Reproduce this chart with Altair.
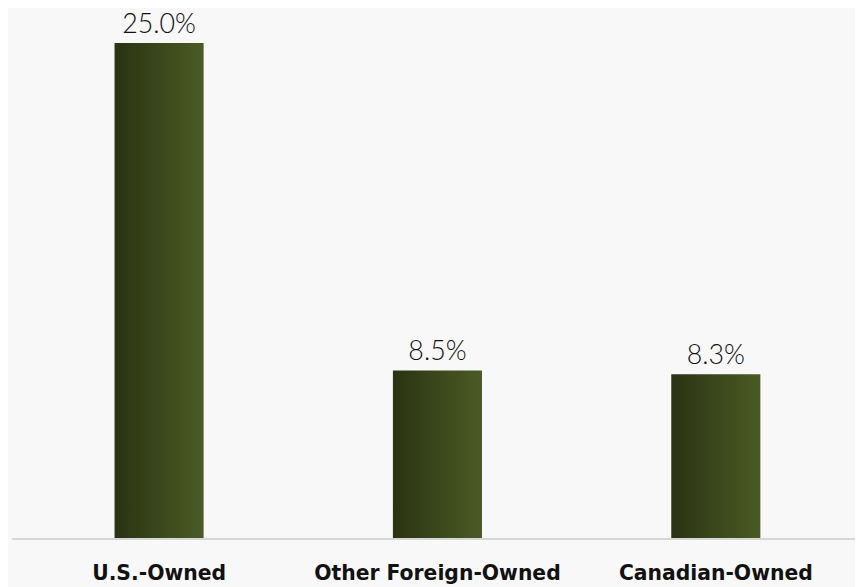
import altair as alt
import pandas as pd

categories = ["U.S.-Owned", "Other Foreign-Owned", "Canadian-Owned"]
values = [25.0, 8.5, 8.3]
labels = ["25.0%", "8.5%", "8.3%"]

df = pd.DataFrame({"cat": categories, "val": values, "lab": labels})

W, H = 842, 533

x = alt.X("cat:N", sort=categories,
          scale=alt.Scale(paddingInner=0.68, paddingOuter=0.34),
          axis=alt.Axis(title=None, labelAngle=0, domain=False, ticks=False, tickSize=0,
                        labelFont="DejaVu Sans", labelFontWeight="bold", labelFontSize=20.5,
                        labelColor="#111111", labelPadding=41, labelLimit=400,
                        labelBaseline="alphabetic"))
y = alt.Y("val:Q", scale=alt.Scale(domain=[0, 26.65], nice=False, zero=True), axis=None)

grad = alt.Gradient(gradient="linear",
                    stops=[alt.GradientStop(color="#2a3312", offset=0),
                           alt.GradientStop(color="#4b5b25", offset=1)],
                    x1=0, x2=1, y1=0, y2=0)

bars = alt.Chart(df).mark_bar(color=grad).encode(x=x, y=y)

text = alt.Chart(df).mark_text(baseline="alphabetic", dy=-10, font="Lato", fontWeight=300,
                               fontSize=27, color="#111111").encode(x=x, y=y, text="lab:N")

axis_line = alt.Chart(df).mark_rule(color="#d6d6d6", strokeWidth=2).encode(
    x=alt.value(-8), x2=alt.value(W + 3), y=alt.value(H))

chart = alt.layer(bars, text, axis_line).properties(
    width=W, height=H, background="#f8f8f8",
    autosize=alt.AutoSizeParams(type="none"),
    padding={"left": 12, "top": 0, "right": 0, "bottom": 46}
).configure_view(stroke=None)

chart.save("out.html", embed_options={"renderer": "svg", "actions": False})
